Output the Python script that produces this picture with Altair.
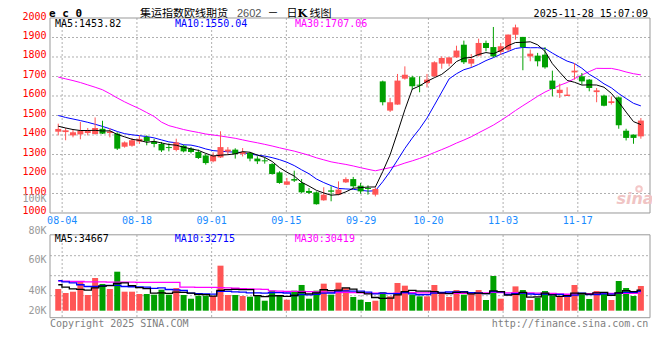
import altair as alt
import pandas as pd

# ---------------- data ----------------
opens = [1417, 1415, 1398, 1403, 1410, 1405, 1432, 1410, 1407, 1340,
         1345, 1366, 1390, 1366, 1354, 1338, 1323, 1345, 1330, 1313,
         1295, 1265, 1285, 1315, 1325, 1303, 1308, 1279, 1270, 1251,
         1208, 1145, 1174, 1154, 1113, 1106, 1065, 1116, 1094, 1157,
         1174, 1140, 1128, 1094, 1675, 1525, 1556, 1689, 1696, 1658,
         1667, 1701, 1766, 1766, 1798, 1863, 1766, 1807, 1872, 1851,
         1826, 1838, 1914, 1903, 1803, 1807, 1812, 1679, 1615, 1600,
         1721, 1701, 1684, 1620, 1602, 1564, 1593, 1422, 1402, 1393]
highs = [1458, 1436, 1429, 1467, 1436, 1490, 1473, 1436, 1414, 1367,
         1385, 1398, 1398, 1380, 1364, 1357, 1381, 1350, 1338, 1325,
         1304, 1311, 1419, 1338, 1332, 1333, 1313, 1291, 1285, 1256,
         1214, 1180, 1217, 1174, 1128, 1111, 1132, 1137, 1162, 1183,
         1185, 1154, 1142, 1132, 1679, 1590, 1713, 1752, 1704, 1701,
         1713, 1778, 1803, 1798, 1858, 1884, 1815, 1894, 1884, 1954,
         1872, 1915, 1966, 1903, 1838, 1821, 1851, 1730, 1663, 1645,
         1769, 1718, 1687, 1641, 1607, 1598, 1598, 1432, 1402, 1487]
lows = [1398, 1373, 1388, 1378, 1398, 1402, 1405, 1388, 1323, 1335,
        1340, 1354, 1347, 1337, 1313, 1316, 1316, 1311, 1306, 1277,
        1248, 1260, 1282, 1299, 1279, 1290, 1265, 1251, 1253, 1197,
        1150, 1143, 1159, 1103, 1097, 1043, 1063, 1060, 1091, 1154,
        1128, 1099, 1094, 1085, 1552, 1518, 1555, 1684, 1632, 1619,
        1644, 1697, 1740, 1752, 1795, 1764, 1749, 1803, 1829, 1798,
        1812, 1829, 1889, 1732, 1778, 1752, 1740, 1598, 1590, 1600,
        1684, 1658, 1624, 1568, 1547, 1556, 1432, 1372, 1355, 1381]
closes = [1431, 1424, 1414, 1422, 1424, 1436, 1407, 1418, 1330, 1362,
          1373, 1380, 1368, 1354, 1321, 1333, 1362, 1316, 1313, 1282,
          1256, 1294, 1338, 1325, 1303, 1313, 1279, 1265, 1265, 1200,
          1154, 1162, 1166, 1106, 1103, 1045, 1094, 1109, 1120, 1174,
          1137, 1111, 1123, 1123, 1568, 1568, 1679, 1709, 1650, 1653,
          1684, 1773, 1795, 1798, 1833, 1773, 1790, 1872, 1846, 1803,
          1855, 1915, 1952, 1851, 1817, 1778, 1747, 1636, 1632, 1607,
          1730, 1675, 1641, 1629, 1550, 1573, 1450, 1385, 1385, 1474]
volumes = [36800, 30000, 32200, 48600, 26600, 55400, 45300, 36800, 66100, 32200,
           32200, 28300, 28300, 27100, 35600, 27100, 38500, 26600, 20300, 25400,
           25400, 24900, 76300, 26600, 26600, 24900, 23700, 26600, 16900, 33900,
           25400, 18600, 33900, 43600, 20300, 33900, 45800, 27100, 47500, 38500,
           23200, 18600, 14700, 16900, 31700, 24300, 46900, 42400, 27100, 24300,
           24300, 43500, 28800, 23200, 35000, 27100, 28800, 35000, 18100, 58800,
           20300, 0, 41200, 35000, 18100, 22000, 33300, 25400, 23200, 23700,
           43500, 29900, 19800, 33300, 29400, 18100, 50300, 38400, 24900, 41800]

# moving-average values before a full window exists
ma5_head = [1445, 1436, 1428, 1423]
ma10_head = [1500, 1490, 1482, 1474, 1465, 1455, 1444, 1432, 1418]
ma30_head = [1697, 1688, 1679, 1669, 1657, 1645, 1632, 1612, 1590, 1570,
             1552, 1535, 1515, 1495, 1466, 1448, 1438, 1428, 1420, 1413,
             1405, 1400, 1395, 1389, 1383, 1375, 1367, 1360, 1352]
vma5_head = [44000, 40000, 37000, 36000]
vma10_head = [51000, 49000, 47000, 44000, 41000, 41000, 42000, 43000, 43000]
vma30_head = [50000, 50000, 49500, 49500, 49000, 49000, 49000, 48500, 48500, 48500,
              48500, 48000, 48000, 48000, 48000, 48000, 48000, 40000, 40000, 39500,
              39500, 39500, 39000, 38500, 38000, 37500, 37000, 36500, 36000]

date_labels = ["08-04", "08-18", "09-01", "09-15", "09-29", "10-20", "11-03", "11-17"]
date_pos = [0.53, 10.67, 20.8, 30.93, 41.07, 50.19, 60.32, 70.45]
price_ticks = [1000, 1100, 1200, 1300, 1400, 1500, 1600, 1700, 1800, 1900, 2000]
vol_tick_text = ["20K", "40K", "60K", "80K", "100K"]
vol_tick_pos = [0, 33900, 85900, 135600, 189300]

ma_texts = ["MA5:1453.82", "MA10:1550.04", "MA30:1707.06"]
vma_texts = ["MA5:34667", "MA10:32715", "MA30:30419"]

# ---------------- table ----------------
def moving(values, window, head):
    s = pd.Series(values, dtype=float).rolling(window).mean()
    s.iloc[:len(head)] = head
    return s

n = len(closes)
df = pd.DataFrame({
    "i": list(range(n)),
    "open": opens, "high": highs, "low": lows, "close": closes, "vol": volumes,
    "dir": ["up" if c >= o else "down" for o, c in zip(opens, closes)],
    "ma5": moving(closes, 5, ma5_head),
    "ma10": moving(closes, 10, ma10_head),
    "ma30": moving(closes, 30, ma30_head),
    "vma5": moving(volumes, 5, vma5_head),
    "vma10": moving(volumes, 10, vma10_head),
    "vma30": moving(volumes, 30, vma30_head),
})
ticks = pd.DataFrame({"pos": date_pos, "label": date_labels})
pticks = pd.DataFrame({"p": price_ticks, "t": [str(v) for v in price_ticks]})
vticks = pd.DataFrame({"v": vol_tick_pos, "t": vol_tick_text})

# ---------------- styles ----------------
MONO = "DejaVu Sans Mono"
CJK = "Noto Sans CJK SC"
RED, GREEN = "#ff5555", "#00a000"
GRID = "#b0b0b0"
FRAME = "#999999"

xscale = alt.Scale(domain=[-0.44, 79.56], nice=False, zero=False)
pscale = alt.Scale(domain=[461.5, 2000], nice=False, zero=False)
vscale = alt.Scale(domain=[-12400, 496100], nice=False, zero=False)
cscale = alt.Scale(domain=["up", "down"], range=[RED, GREEN])

X = alt.X("i:Q", scale=xscale, axis=None)
COLOR = alt.Color("dir:N", scale=cscale, legend=None)

one = pd.DataFrame({"k": [0]})


def text(t, x, y, color="black", size=10, font=MONO, align="left",
         baseline="middle", weight="normal", style="normal"):
    return alt.Chart(pd.DataFrame({"t": [t]})).mark_text(
        align=align, baseline=baseline, color=color, fontSize=size, font=font,
        fontWeight=weight, fontStyle=style
    ).encode(x=alt.value(x), y=alt.value(y), text="t:N")


# ---------------- price panel ----------------
p_grid_h = alt.Chart(pd.DataFrame({"p": price_ticks[1:-1]})).mark_rule(
    color=GRID, strokeDash=[2, 2], strokeWidth=1
).encode(y=alt.Y("p:Q", scale=pscale, axis=None))

p_grid_v = alt.Chart(ticks).mark_rule(color=GRID, strokeDash=[2, 2], strokeWidth=1).encode(
    x=alt.X("pos:Q", scale=xscale, axis=None),
    y=alt.YDatum(2000, scale=pscale, axis=None, type="quantitative"),
    y2=alt.Y2Datum(1000),
)

p_frame = alt.Chart(one).mark_rect(fillOpacity=0, stroke=FRAME, strokeWidth=1).encode(
    x=alt.value(0), x2=alt.value(600),
    y=alt.YDatum(2000, scale=pscale, axis=None, type="quantitative"),
    y2=alt.Y2Datum(1000),
)

date_text = alt.Chart(ticks).mark_text(
    color="#1a8cff", font=MONO, fontSize=10, baseline="middle", dy=8.0
).encode(
    x=alt.X("pos:Q", scale=xscale, axis=None),
    y=alt.YDatum(1000, scale=pscale, axis=None, type="quantitative"),
    text="label:N",
)

price_labels = alt.Chart(pticks).mark_text(
    color="#ff0000", font=MONO, fontSize=10, align="right", baseline="middle", dy=-1.5
).encode(
    x=alt.value(-3.5),
    y=alt.Y("p:Q", scale=pscale, axis=None),
    text="t:N",
)

wicks = alt.Chart(df).mark_rule(strokeWidth=1).encode(
    x=X, y=alt.Y("low:Q", scale=pscale, axis=None), y2="high:Q", color=COLOR)
bodies = alt.Chart(df).mark_bar(size=6).encode(
    x=X, y=alt.Y("open:Q", scale=pscale, axis=None), y2="close:Q", color=COLOR)


def pline(field, color):
    return alt.Chart(df).mark_line(color=color, strokeWidth=1).encode(
        x=X, y=alt.Y(field + ":Q", scale=pscale, axis=None))


TS = 11     # title size
TB = -0.8   # title baseline (relative to plot top)
price_group = alt.layer(
    p_grid_h, p_grid_v, p_frame, date_text, price_labels,
    pline("ma30", "#ff00ff"), pline("ma10", "#0000ff"),
    wicks, bodies, pline("ma5", "#000000"),
    text(ma_texts[0], 5, 5.5, "#000000"),
    text(ma_texts[1], 125, 5.5, "#0000ff"),
    text(ma_texts[2], 245, 5.5, "#ff00ff"),
    text("e c 0", -1, -1.0, weight="bold", size=11, baseline="alphabetic"),
    text("集运指数欧线期货", 90, TB, font=CJK, size=TS, baseline="alphabetic"),
    text("2602", 187, TB, color="#555555", font="Liberation Sans", size=11,
         baseline="alphabetic"),
    text("－", 217.5, TB, font=CJK, size=TS, baseline="alphabetic"),
    text("日", 236.5, TB, font=CJK, size=TS, baseline="alphabetic"),
    text("K", 247.5, TB, font="DejaVu Serif", size=11, weight="bold",
         baseline="alphabetic"),
    text("线图", 259.5, TB, font=CJK, size=TS, baseline="alphabetic"),
    text("2025-11-28 15:07:09", 598, -1.0, align="right", baseline="alphabetic"),
    text("sina", 585, 181, color="#f0c4c4", size=16, font="DejaVu Sans",
         weight="bold", style="italic", align="center"),
    alt.Chart(one).mark_point(shape="circle", size=30, color="#f0b0b0",
                              strokeWidth=2).encode(x=alt.value(589), y=alt.value(171)),
    text("Copyright 2025 SINA.COM", 0, 306, color="#808080"),
    text("http://finance.sina.com.cn", 598.3, 306, color="#808080", align="right"),
)

# ---------------- volume panel ----------------
v_grid_h = [
    alt.Chart(one).mark_rule(color=GRID, strokeDash=[2, 2], strokeWidth=1).encode(
        x=alt.value(0), x2=alt.value(600), y=alt.value(yy))
    for yy in (237.7, 257.7, 277.7)
]
v_grid_v = alt.Chart(ticks).mark_rule(color=GRID, strokeDash=[2, 2], strokeWidth=1).encode(
    x=alt.X("pos:Q", scale=xscale, axis=None), y=alt.value(217), y2=alt.value(299.7))
v_frame = alt.Chart(one).mark_rect(fillOpacity=0, stroke=FRAME, strokeWidth=1).encode(
    x=alt.value(0), x2=alt.value(600), y=alt.value(216.8), y2=alt.value(299.7))

vol_labels = alt.Chart(vticks).mark_text(
    color="#999999", font=MONO, fontSize=10, align="right", baseline="middle"
).encode(
    x=alt.value(-3.5),
    y=alt.Y("v:Q", scale=vscale, axis=None),
    text="t:N",
)

vbars = alt.Chart(df).mark_bar(size=6).encode(
    x=X, y=alt.Y("vol:Q", scale=vscale, axis=None),
    y2=alt.Y2Datum(0), color=COLOR)


def vline(field, color):
    return alt.Chart(df).mark_line(color=color, strokeWidth=1.3, interpolate="step").encode(
        x=X, y=alt.Y(field + ":Q", scale=vscale, axis=None))


vol_group = alt.layer(
    *v_grid_h, v_grid_v, v_frame, vol_labels, vbars,
    vline("vma30", "#ff00ff"), vline("vma10", "#0000ff"), vline("vma5", "#000000"),
    text(vma_texts[0], 4.7, 220.7, "#000000"),
    text(vma_texts[1], 124.7, 220.7, "#0000ff"),
    text(vma_texts[2], 244.7, 220.7, "#ff00ff"),
)

chart = alt.layer(price_group, vol_group).resolve_scale(y="independent").properties(
    width=600, height=300,
    autosize=alt.AutoSizeParams(type="none"),
    padding={"left": 42, "top": 10, "right": 2, "bottom": 30},
).configure_view(strokeOpacity=0)

chart.save("out.html", embed_options={"renderer": "svg", "actions": False})
